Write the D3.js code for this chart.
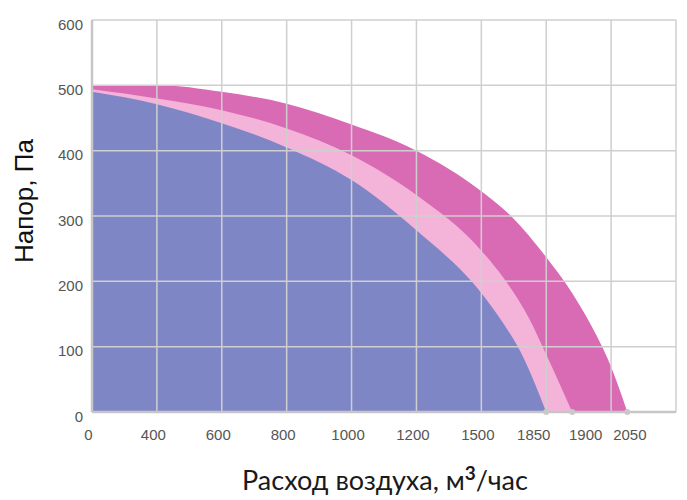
<!DOCTYPE html>
<html>
<head>
<meta charset="utf-8">
<script src="https://cdn.jsdelivr.net/npm/d3@7"></script>
<style>
  body { margin: 0; background: #fff; }
  svg { display: block; }
</style>
</head>
<body>
<svg id="chart" width="687" height="500"></svg>
<script>
// tick labels
const flowTicks = [0, 400, 600, 800, 1000, 1200, 1500, 1850, 1900, 2050]
const pressureTicks = [0, 100, 200, 300, 400, 500, 600]

// fan curves: flow (m3/h) and pressure (Pa)
const flow2050 = [0, 400, 600, 800, 1000, 1200, 1500, 1660, 1850, 1890, 1954, 2003, 2050]
const press2050 = [500, 500, 490, 472, 440, 400, 338, 300, 237, 194, 130, 73, 0]

const flow1900 = [0, 400, 600, 800, 1000, 1200, 1500, 1620, 1760, 1850, 1900]
const press1900 = [494, 480, 462, 434, 393, 332, 247, 205, 142, 88, 0]

const flow1850 = [0, 400, 600, 800, 1000, 1200, 1500, 1620, 1710, 1850]
const press1850 = [490, 471, 442, 405, 355, 278, 182, 135, 93, 0]

const W = 687, H = 500
const margin = {top: 20, right: 11, bottom: 88, left: 92}
const iw = W - margin.left - margin.right
const ih = H - margin.top - margin.bottom

const svg = d3.select('#chart')
const g = svg.append('g').attr('transform', `translate(${margin.left},${margin.top})`)

// the x axis is not linear: ticks sit on grid columns
const cols = d3.scaleLinear([0, 9], [0, iw])
const stopCols = [0, 1, 2, 3, 4, 5, 6, 7, 7.4, 8.25]
const x = d3.scaleLinear(flowTicks, stopCols.map(cols))
const y = d3.scaleLinear([0, 600], [ih, 0])

const series = [
  {flow: flow2050, press: press2050, color: '#d96bb5'},
  {flow: flow1900, press: press1900, color: '#f4b3d9'},
  {flow: flow1850, press: press1850, color: '#7f86c6'}
]

const area = d3.area()
  .x(d => x(d[0]))
  .y0(y(0))
  .y1(d => y(d[1]))
  .curve(d3.curveMonotoneX)

g.selectAll('path.area')
  .data(series)
  .join('path')
  .attr('class', 'area')
  .attr('fill', d => d.color)
  .attr('d', d => area(d3.zip(d.flow, d.press)))

// grid
g.selectAll('line.hgrid')
  .data(pressureTicks.slice(1))
  .join('line')
  .attr('x1', 0).attr('x2', iw)
  .attr('y1', d => y(d)).attr('y2', d => y(d))
  .attr('stroke', '#cfcfcf').attr('stroke-width', 1.5)

g.selectAll('line.vgrid')
  .data(d3.range(1, 10))
  .join('line')
  .attr('x1', d => cols(d)).attr('x2', d => cols(d))
  .attr('y1', 0).attr('y2', ih)
  .attr('stroke', '#cfcfcf').attr('stroke-width', 1.5)

// axis lines
g.append('line')
  .attr('x1', 0).attr('x2', 0).attr('y1', 0).attr('y2', ih)
  .attr('stroke', '#c6c6c6').attr('stroke-width', 2.5)
g.append('line')
  .attr('x1', 0).attr('x2', iw).attr('y1', ih).attr('y2', ih)
  .attr('stroke', '#c6c6c6').attr('stroke-width', 2.5)

// end points
g.selectAll('circle.end')
  .data(series)
  .join('circle')
  .attr('cx', d => x(d.flow[d.flow.length - 1]))
  .attr('cy', y(0))
  .attr('r', 3)
  .attr('fill', '#c9c9c9')

const yAxis = d3.axisLeft(y).tickValues(pressureTicks).tickSize(0).tickPadding(9)
g.append('g').call(yAxis)
  .call(a => a.select('.domain').remove())
  .selectAll('text')
  .attr('dy', '0.6em')
  .attr('fill', '#555')
  .style('font', '15px "Liberation Sans", Arial, sans-serif')

const nudge = {1850: -9, 1900: 17, 2050: 6}
const xAxis = d3.axisBottom(x).tickValues(flowTicks).tickFormat(d3.format('d'))
  .tickSize(0).tickPadding(17)
g.append('g').attr('transform', `translate(0,${ih})`).call(xAxis)
  .call(a => a.select('.domain').remove())
  .selectAll('text')
  .attr('dx', d => -4 + (nudge[d] || 0))
  .attr('fill', '#555')
  .style('font', '15px "Liberation Sans", Arial, sans-serif')

// titles
svg.append('text')
  .attr('transform', 'translate(33,201) rotate(-90)')
  .attr('text-anchor', 'middle')
  .attr('fill', '#111')
  .style('font', '26px "Liberation Sans", Arial, sans-serif')
  .text('Напор, Па')

const xt = svg.append('text')
  .attr('x', 385).attr('y', 490)
  .attr('text-anchor', 'middle')
  .attr('fill', '#1a1a1a')
  .style('font', '27px Lato, sans-serif')
xt.append('tspan').text('Расход воздуха, м')
xt.append('tspan').attr('dy', -10).style('font-size', '19px').style('font-weight', 'bold').text('3')
xt.append('tspan').attr('dy', 10).text('/час')
</script>
</body>
</html>
